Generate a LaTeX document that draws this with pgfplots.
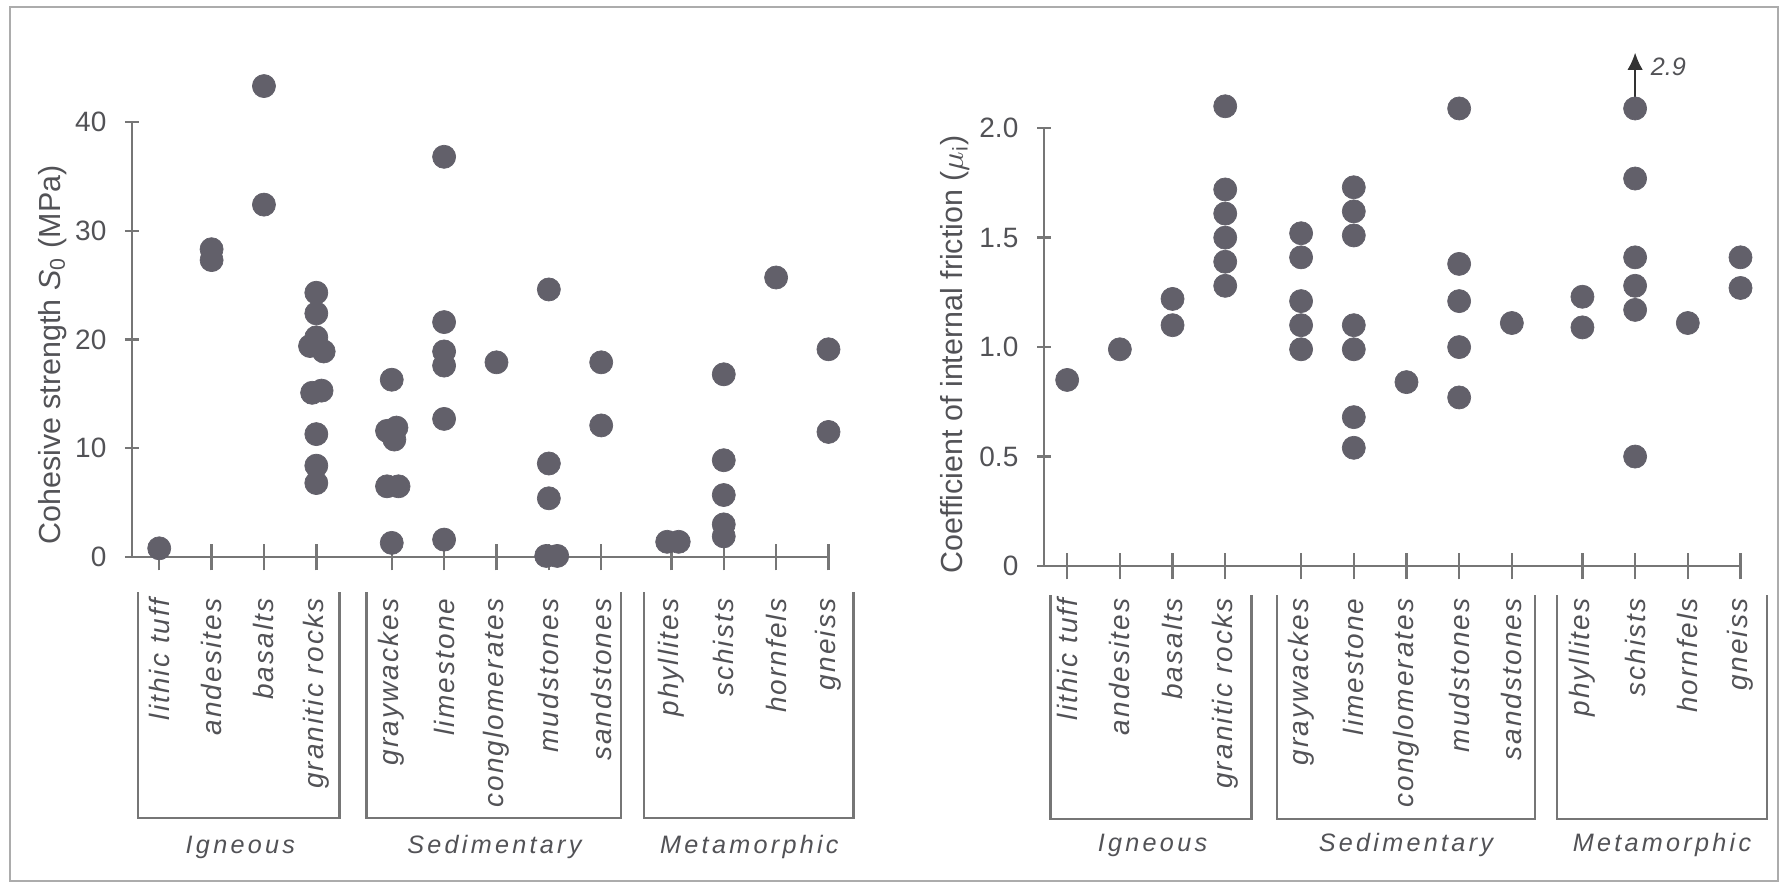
\documentclass[border=0pt]{standalone}
\usepackage{pgfplots}
\pgfplotsset{compat=1.18}
\usepackage{fontspec}
\setmainfont{Liberation Sans}
\usetikzlibrary{arrows.meta}
\definecolor{dotc}{RGB}{98,96,106}
\definecolor{axc}{RGB}{118,118,118}
\definecolor{txc}{RGB}{82,82,86}
\newfontfamily\catfont{Liberation Sans}[LetterSpace=7.5]
\newfontfamily\grpfont{Liberation Sans}[LetterSpace=13]

\tikzset{
  grp/.style={font=\grpfont\itshape\fontsize{7.2}{8}\selectfont, text=txc, anchor=base},
  brk/.style={draw=axc, line width=0.7pt},
}
\pgfplotsset{
  rockaxis/.style={
    scale only axis, width=199pt,
    axis lines=left, axis line style={-, draw=axc, line width=0.75pt},
    tick style={draw=axc, line width=0.7pt},
    tick align=center,
    major tick length=7.6pt,
    ytick style={/pgfplots/major tick length=4pt},
    xtick={0,1,2,3,4.44,5.44,6.44,7.44,8.44,9.78,10.78,11.78,12.78},
    xticklabels={lithic tuff,andesites,basalts,granitic rocks,graywackes,limestone,conglomerates,mudstones,sandstones,phyllites,schists,hornfels,gneiss},
    yticklabel style={font=\fontsize{8}{9}\selectfont, text=txc},
    ylabel style={font=\fontsize{8.7}{10}\selectfont, text=txc, anchor=center},
    /pgf/number format/assume math mode=true,
    xmax=12.78, ymin=0,
    clip=false,
  },
  catlabels/.style={xticklabel style={rotate=90, anchor=east, inner sep=0pt, xshift=#1, font=\catfont\itshape\fontsize{8}{9}\selectfont, text=txc}},
  dots/.style={only marks, mark=*, mark size=3.3pt, mark options={fill=dotc, draw=dotc, line width=0.2pt}},
}

\begin{document}
\begin{tikzpicture}
\useasboundingbox (0,0) rectangle (509.43pt,252.86pt);
\draw[gray!65, line width=0.8pt] (2.857pt,1.143pt) rectangle (508pt,250.857pt);

% ---------------- left panel ----------------
\begin{axis}[rockaxis,
  at={(37.714pt,93.714pt)}, anchor=south west,
  height=124.3pt,
  xmin=-0.52, ymax=40,
  ytick={0,10,20,30,40},
  catlabels=-7.9pt,
  ylabel={Cohesive strength {\itshape S}\textsubscript{0} (MPa)},
  ylabel style={at={(rel axis cs:-0.1133,0.464)}},
]
\addplot[dots] coordinates {
(0,0.8)
(1,28.3)(1,27.3)
(2,43.3)(2,32.4)
(3,24.3)(3,22.4)(3,20.2)(2.88,19.4)(3.14,18.9)(2.92,15.1)(3.1,15.3)(3,11.3)(3,8.4)(3,6.8)
(4.44,16.3)(4.35,11.6)(4.53,11.9)(4.49,10.8)(4.35,6.5)(4.57,6.5)(4.44,1.3)
(5.44,36.8)(5.44,21.6)(5.44,18.9)(5.44,17.6)(5.44,12.7)(5.44,1.6)
(6.44,17.9)
(7.44,24.6)(7.44,8.6)(7.44,5.4)(7.39,0.1)(7.6,0.1)
(8.44,17.9)(8.44,12.1)
(9.70,1.4)(9.92,1.4)
(10.78,16.8)(10.78,8.9)(10.78,5.7)(10.78,3.0)(10.78,1.9)
(11.78,25.7)
(12.78,19.1)(12.78,11.5)
};
\draw[brk] ([yshift=-10pt]axis cs:-0.41,0) |- ([yshift=-74.6pt]axis cs:3.44,0) -- ([yshift=-10pt]axis cs:3.44,0);
\draw[brk] ([yshift=-10pt]axis cs:3.96,0) |- ([yshift=-74.6pt]axis cs:8.82,0) -- ([yshift=-10pt]axis cs:8.82,0);
\draw[brk] ([yshift=-10pt]axis cs:9.26,0) |- ([yshift=-74.6pt]axis cs:13.26,0) -- ([yshift=-10pt]axis cs:13.26,0);
\node[grp] at ([yshift=-84.6pt]axis cs:1.55,0) {Igneous};
\node[grp] at ([yshift=-84.6pt]axis cs:6.40,0) {Sedimentary};
\node[grp] at ([yshift=-84.6pt]axis cs:11.27,0) {Metamorphic};
\end{axis}

% ---------------- right panel ----------------
\begin{axis}[rockaxis,
  at={(298.286pt,91.143pt)}, anchor=south west,
  height=125.1pt,
  xmin=-0.44, ymax=2,
  ytick={0,0.5,1,1.5,2},
  yticklabels={0,0.5,1.0,1.5,2.0},
  catlabels=-5.3pt,
  ylabel={Coefficient of internal friction ($\mu_{\mathrm{i}}$)},
  ylabel style={at={(rel axis cs:-0.1277,0.484)}},
]
\addplot[dots] coordinates {
(0,0.85)
(1,0.99)
(2,1.22)(2,1.10)
(3,2.10)(3,1.72)(3,1.61)(3,1.50)(3,1.39)(3,1.28)
(4.44,1.52)(4.44,1.41)(4.44,1.21)(4.44,1.10)(4.44,0.99)
(5.44,1.73)(5.44,1.62)(5.44,1.51)(5.44,1.10)(5.44,0.99)(5.44,0.68)(5.44,0.54)
(6.44,0.84)
(7.44,2.09)(7.44,1.38)(7.44,1.21)(7.44,1.00)(7.44,0.77)
(8.44,1.11)
(9.78,1.23)(9.78,1.09)
(10.78,2.09)(10.78,1.77)(10.78,1.41)(10.78,1.28)(10.78,1.17)(10.78,0.50)
(11.78,1.11)
(12.78,1.41)(12.78,1.27)
};
\draw[-{Latex[length=4.9pt,width=4.4pt]}, line width=0.5pt, black!80] (axis cs:10.78,2.14) -- (axis cs:10.78,2.345);
\node[anchor=west, inner sep=0pt, font=\itshape\fontsize{7.2}{8}\selectfont, text=txc] at ([xshift=4.3pt]axis cs:10.78,2.28) {2.9};
\draw[brk] ([yshift=-8.3pt]axis cs:-0.32,0) |- ([yshift=-72.3pt]axis cs:3.50,0) -- ([yshift=-8.3pt]axis cs:3.50,0);
\draw[brk] ([yshift=-8.3pt]axis cs:3.98,0) |- ([yshift=-72.3pt]axis cs:8.88,0) -- ([yshift=-8.3pt]axis cs:8.88,0);
\draw[brk] ([yshift=-8.3pt]axis cs:9.30,0) |- ([yshift=-72.3pt]axis cs:13.28,0) -- ([yshift=-8.3pt]axis cs:13.28,0);
\node[grp] at ([yshift=-81.7pt]axis cs:1.62,0) {Igneous};
\node[grp] at ([yshift=-81.7pt]axis cs:6.43,0) {Sedimentary};
\node[grp] at ([yshift=-81.7pt]axis cs:11.29,0) {Metamorphic};
\end{axis}
\end{tikzpicture}
\end{document}
